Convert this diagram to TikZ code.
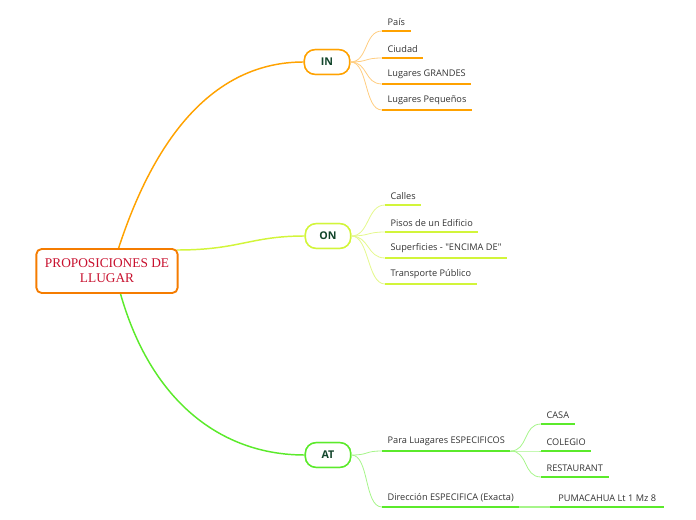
\documentclass[tikz,border=0pt]{standalone}
\usepackage{fontspec}
\setmainfont{Open Sans}[Ligatures=TeXOff]
\newfontfamily\rootfont{Liberation Serif}
\begin{document}
\begin{tikzpicture}[x=0.75pt,y=-0.75pt,
  rootbox/.style={draw=rootorange,line width=1.4pt,rounded corners=4pt,fill=white,
    minimum width=106pt,minimum height=33pt,align=center,text=rootred,
    font=\rootfont\fontsize{10}{11.2}\selectfont,inner sep=2pt},
  subbox/.style={draw=#1,line width=1.1pt,rounded corners=8pt,fill=white,
    minimum width=34pt,minimum height=18.5pt,text=subgreen,
    font=\fontsize{8}{9}\selectfont\bfseries,inner sep=1pt},
  leaf/.style={anchor=south west,inner xsep=4pt,inner ysep=3.6pt,text=leaftext,
    font=\fontsize{6.9}{8}\selectfont},
  uline/.style={draw=#1,line width=1.4pt},
  branch/.style={draw=#1,line width=0.6pt},
  mainline/.style={draw=#1,line width=1.1pt}]
\definecolor{rootorange}{HTML}{F57C00}
\definecolor{rootred}{HTML}{C8102E}
\definecolor{subgreen}{HTML}{12452B}
\definecolor{leaftext}{HTML}{333333}
\definecolor{inc}{HTML}{FFA200}
\definecolor{incl}{HTML}{FFCD80}
\definecolor{onc}{HTML}{D2F53A}
\definecolor{oncl}{HTML}{E4F88C}
\definecolor{atc}{HTML}{5BEA2B}
\definecolor{atcl}{HTML}{A6F58A}
\useasboundingbox (0,0) rectangle (696,520);

% main connectors first (behind boxes)
\coordinate (rin) at (118,250);
\coordinate (ron) at (177,250);
\coordinate (rat) at (120,292);
\node[subbox=inc] (IN) at (327,62) {IN};
\node[subbox=onc] (ON) at (328,236) {ON};
\node[subbox=atc] (AT) at (328,455) {AT};

\draw[mainline=inc] (rin) .. controls (160,120) and (225,62) .. (IN.west);
\draw[mainline=onc] (ron) .. controls (240,250) and (250,236) .. (ON.west);
\draw[mainline=atc] (rat) .. controls (150,400) and (220,455) .. (AT.west);

\node[rootbox] (root) at (107,271) {PROPOSICIONES DE\\LLUGAR};
\node[subbox=inc] at (IN) {IN};
\node[subbox=onc] at (ON) {ON};
\node[subbox=atc] at (AT) {AT};

% IN leaves
\node[leaf] (pais) at (382,31) {País};
\node[leaf] (ciudad) at (382,58) {Ciudad};
\node[leaf] (lgr) at (382,84) {Lugares GRANDES};
\node[leaf] (lpq) at (382,110) {Lugares Pequeños};
\foreach \n in {pais,ciudad,lgr,lpq}{
  \draw[branch=incl] (IN.east) .. controls +(18,0) and +(-18,0) .. (\n.south west);
  \draw[uline=inc] (\n.south west) -- (\n.south east);
}

% ON leaves
\node[leaf] (calles) at (385,205) {Calles};
\node[leaf] (pisos) at (385,232) {Pisos de un Edificio};
\node[leaf] (sup) at (385,258) {Superficies - "ENCIMA DE"};
\node[leaf] (trans) at (385,284) {Transporte Público};
\foreach \n in {calles,pisos,sup,trans}{
  \draw[branch=oncl] (ON.east) .. controls +(18,0) and +(-18,0) .. (\n.south west);
  \draw[uline=onc] (\n.south west) -- (\n.south east);
}

% AT leaves
\node[leaf] (para) at (382,451) {Para Luagares ESPECIFICOS};
\node[leaf] (dir) at (382,507) {Dirección ESPECIFICA (Exacta)};
\foreach \n in {para,dir}{
  \draw[branch=atcl] (AT.east) .. controls +(18,0) and +(-18,0) .. (\n.south west);
  \draw[uline=atc] (\n.south west) -- (\n.south east);
}
\node[leaf] (casa) at (541,424) {CASA};
\node[leaf] (col) at (541,451) {COLEGIO};
\node[leaf] (rest) at (541,477) {RESTAURANT};
\foreach \n in {casa,col,rest}{
  \draw[branch=atcl] (para.south east) .. controls +(18,0) and +(-18,0) .. (\n.south west);
  \draw[uline=atc] (\n.south west) -- (\n.south east);
}
\node[leaf,inner xsep=6pt] (puma) at (550,507) {PUMACAHUA Lt 1 Mz 8};
\draw[uline=atcl] (dir.south east) -- (puma.south west);
\draw[uline=atc] (puma.south west) -- (puma.south east);
\end{tikzpicture}
\end{document}
